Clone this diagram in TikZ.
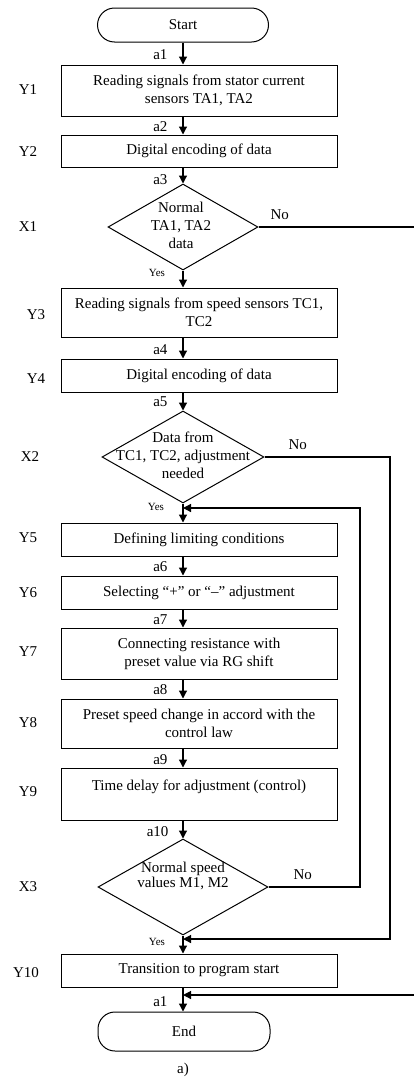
\documentclass[tikz,border=0pt]{standalone}
\usepackage{fontspec}
\setmainfont{Liberation Serif}
\usetikzlibrary{shapes.geometric,arrows.meta}

\begin{document}
\begin{tikzpicture}[x=1pt,y=-1pt,
  txt/.style={font=\fontsize{15}{18}\selectfont, align=center},
  stepbox/.style={draw, line width=1pt, txt, minimum width=276pt, inner sep=0pt},
  term/.style={draw, line width=1pt, rounded corners=17pt, txt, inner sep=0pt},
  decision/.style={draw, diamond, line width=1pt, inner sep=0pt},
  side/.style={font=\fontsize{15}{18}\selectfont},
  yes/.style={font=\fontsize{11}{13}\selectfont},
  wire/.style={line width=1.2pt},
  flow/.style={wire, -{Triangle[length=8pt,width=8pt]}}
]
\useasboundingbox (0,0) rectangle (413,1082);

% terminals
\node[term, minimum width=171pt, minimum height=34pt] (start) at (183,25) {Start};
\node[term, minimum width=172pt, minimum height=39pt] (end) at (184,1031.5) {End};

% process steps
\node[stepbox, minimum height=51pt] (y1) at (199,90.5) {Reading signals from stator current\\sensors TA1, TA2};
\node[stepbox, minimum height=32pt] (y2) at (199,151) {Digital encoding of data};
\node[stepbox, minimum height=49pt] (y3) at (199,312.5) {Reading signals from speed sensors TC1,\\TC2};
\node[stepbox, minimum height=33pt] (y4) at (199,375.5) {Digital encoding of data};
\node[stepbox, minimum height=33pt] (y5) at (199,539.5) {Defining limiting conditions};
\node[stepbox, minimum height=33pt] (y6) at (199,592.5) {Selecting ``+'' or ``--'' adjustment};
\node[stepbox, minimum height=51pt] (y7) at (199,653.5) {Connecting resistance with\\preset value via RG shift};
\node[stepbox, minimum height=49pt] (y8) at (199,723.5) {Preset speed change in accord with the\\control law};
\node[stepbox, minimum height=52pt] (y9) at (199,794) {Time delay for adjustment (control)\\\mbox{}};
\node[stepbox, minimum height=33pt] (y10) at (199,970.5) {Transition to program start};

% decisions
\node[decision, minimum width=150pt, minimum height=86pt] (x1) at (183,227) {};
\node[txt] (x1t) at (181,225) {Normal\\TA1, TA2\\data};
\node[decision, minimum width=162pt, minimum height=92pt] (x2) at (183,457) {};
\node[txt] (x2t) at (183,455) {Data from\\TC1, TC2, adjustment\\needed};
\node[decision, minimum width=170pt, minimum height=96pt] (x3) at (183,887) {};
\node[txt, font=\fontsize{15}{15}\selectfont] (x3t) at (183,876) {Normal speed\\values M1, M2};

% step labels on the left
\node[side] (ly1) at (28,90) {Y1};
\node[side] (ly2) at (28,152) {Y2};
\node[side] (lx1) at (28,227) {X1};
\node[side] (ly3) at (36,315) {Y3};
\node[side] (ly4) at (36,379) {Y4};
\node[side] (lx2) at (30,457) {X2};
\node[side] (ly5) at (28,538) {Y5};
\node[side] (ly6) at (28,593) {Y6};
\node[side] (ly7) at (28,652) {Y7};
\node[side] (ly8) at (28,723) {Y8};
\node[side] (ly9) at (28,792) {Y9};
\node[side] (lx3) at (28,887) {X3};
\node[side] (ly10) at (26,973) {Y10};

% transition marks
\node[side, anchor=east] (a1) at (171,55) {a1};
\node[side, anchor=east] (a2) at (171,127) {a2};
\node[side, anchor=east] (a3) at (171,180) {a3};
\node[side, anchor=east] (a4) at (171,350) {a4};
\node[side, anchor=east] (a5) at (171,402) {a5};
\node[side, anchor=east] (a6) at (171,567) {a6};
\node[side, anchor=east] (a7) at (171,620) {a7};
\node[side, anchor=east] (a8) at (171,690) {a8};
\node[side, anchor=east] (a9) at (171,760) {a9};
\node[side, anchor=east] (a10) at (172,832) {a10};
\node[side, anchor=east] (a1b) at (171,1002) {a1};

% branch labels
\node[yes] (yes1) at (157,273) {Yes};
\node[yes] (yes2) at (156,507) {Yes};
\node[yes] (yes3) at (157,942) {Yes};
\node[side, anchor=west] (no1) at (267,215) {No};
\node[side, anchor=west] (no2) at (285,445) {No};
\node[side, anchor=west] (no3) at (290,875) {No};

% main flow
\draw[flow] (start.south) -- (start.south |- y1.north);
\draw[flow] (start.south |- y1.south) -- (start.south |- y2.north);
\draw[flow] (start.south |- y2.south) -- (x1.north);
\draw[flow] (x1.south) -- (x1.south |- y3.north);
\draw[flow] (x1.south |- y3.south) -- (x1.south |- y4.north);
\draw[flow] (x1.south |- y4.south) -- (x2.north);
\draw[flow] (x2.south) -- (x2.south |- y5.north);
\draw[flow] (x2.south |- y5.south) -- (x2.south |- y6.north);
\draw[flow] (x2.south |- y6.south) -- (x2.south |- y7.north);
\draw[flow] (x2.south |- y7.south) -- (x2.south |- y8.north);
\draw[flow] (x2.south |- y8.south) -- (x2.south |- y9.north);
\draw[flow] (x2.south |- y9.south) -- (x3.north);
\draw[flow] (x3.south) -- (x3.south |- y10.north);
\draw[flow] (x3.south |- y10.south) -- (end.north -| x3.south);

% return branches
\coordinate (r1) at (425,227);
\coordinate (r2) at (425,995);
\draw[flow] (x1.east) -- (r1) -- (r2) -- (x1.south |- r2);
\coordinate (q1) at (390,457);
\coordinate (q2) at (390,939);
\draw[flow] (x2.east) -- (q1) -- (q2) -- (x2.south |- q2);
\coordinate (p1) at (360,887);
\coordinate (p2) at (360,508);
\draw[flow] (x3.east) -- (p1) -- (p2) -- (x3.south |- p2);

% caption
\node[side] (cap) at (183,1070) {a)};
\end{tikzpicture}
\end{document}
